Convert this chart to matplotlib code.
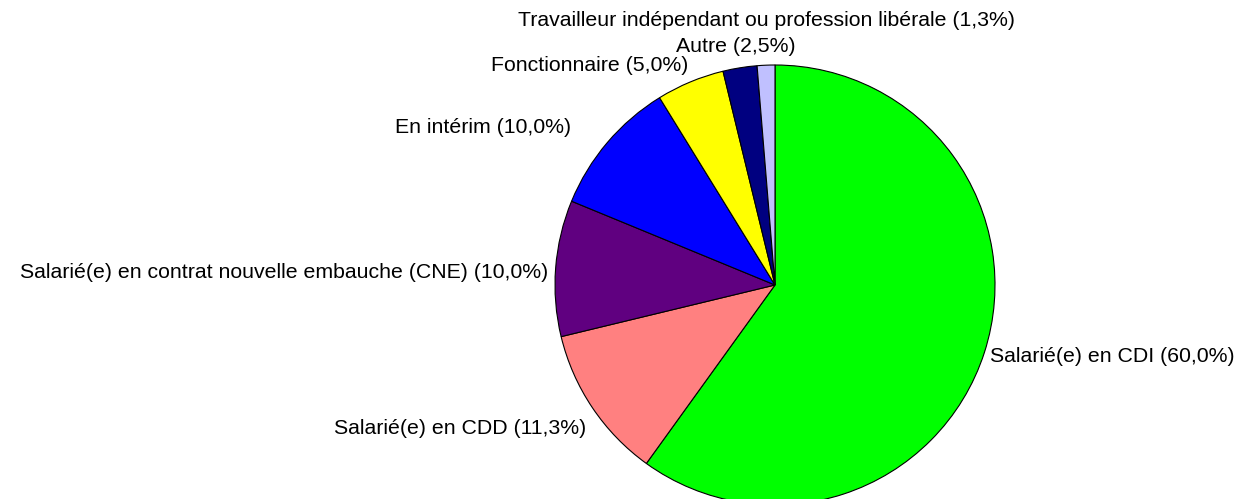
import matplotlib
matplotlib.use("Agg")
import matplotlib.pyplot as plt

# Données
categories = [
    "Salarié(e) en CDI",
    "Salarié(e) en CDD",
    "Salarié(e) en contrat nouvelle embauche (CNE)",
    "En intérim",
    "Fonctionnaire",
    "Autre",
    "Travailleur indépendant ou profession libérale",
]
valeurs = [60.0, 11.3, 10.0, 10.0, 5.0, 2.5, 1.3]
couleurs = ["#00FF00", "#FF8080", "#600080", "#0000FF", "#FFFF00", "#000080", "#C0C0FF"]

# positions des étiquettes (pixels, origine en haut à gauche) et alignement
pos_labels = [(990, 356, "left"), (586, 428, "right"), (548, 272, "right"),
              (571, 127, "right"), (688, 65, "right"), (736, 46, "center"),
              (767, 20, "center")]

W, H = 1238, 499
fig = plt.figure(figsize=(W / 100, H / 100), dpi=100)
ax = fig.add_axes([0, 0, 1, 1])

ax.pie(valeurs, colors=couleurs, startangle=90, counterclock=False,
       center=(775, H - 285), radius=220, frame=False,
       wedgeprops=dict(edgecolor="black", linewidth=0.8))
ax.set_xlim(0, W)
ax.set_ylim(0, H)
ax.set_aspect("equal")
ax.axis("off")

for cat, val, (x, y, ha) in zip(categories, valeurs, pos_labels):
    txt = f"{cat} ({val:.1f}%)".replace(".", ",")
    ax.text(x, H - y, txt, ha=ha, va="center", fontsize=15.3,
            family="Liberation Sans", color="black")

fig.savefig("out.png", dpi=100)
